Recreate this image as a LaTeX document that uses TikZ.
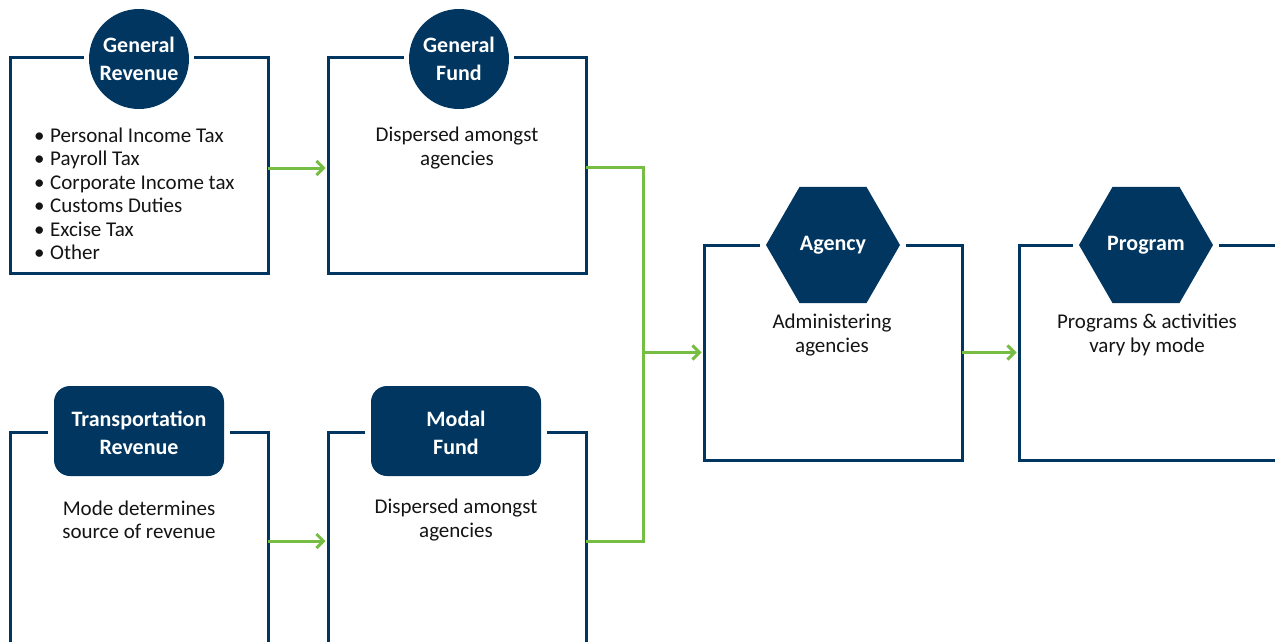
\documentclass[tikz,border=0pt]{standalone}
\usepackage{fontspec}
\setmainfont{Carlito}
\usetikzlibrary{shapes.geometric,arrows.meta,calc}
\definecolor{navy}{RGB}{0,54,96}
\definecolor{lgreen}{RGB}{118,190,67}
\definecolor{txt}{RGB}{20,20,20}
\begin{document}
\begin{tikzpicture}[x=1pt,y=-1pt,
  boxarea/.style={rectangle,minimum width=258pt,minimum height=215pt,inner sep=0pt,outer sep=0pt},
  frame/.style={draw=navy,line width=3pt,line join=miter},
  lbl/.style={text=white,font=\fontsize{22}{28}\selectfont\bfseries,align=center,inner sep=0pt,outer sep=0pt},
  circlbl/.style={lbl,circle,fill=navy,minimum size=100pt},
  roundlbl/.style={lbl,rectangle,rounded corners=16pt,fill=navy,minimum width=170pt,minimum height=90pt},
  hexlbl/.style={lbl,regular polygon,regular polygon sides=6,fill=navy,minimum size=134pt},
  body/.style={text=txt,font=\fontsize{21}{23.5}\selectfont,align=center,inner sep=0pt},
  conn/.style={draw=lgreen,line width=3pt,line join=miter},
  arr/.style={conn,-{Straight Barb[length=7pt,width=14pt,line width=3pt]},shorten >=2.5pt}
]
\useasboundingbox (0,0) rectangle (1275,642);
\clip (0,0) rectangle (1275,642);

% boxes
\node[boxarea] (b1) at (139,165.5) {};
\node[boxarea] (b2) at (457,165.5) {};
\node[boxarea] (b3) at (139,539.5) {};
\node[boxarea] (b4) at (457,539.5) {};
\node[boxarea] (b5) at (833,352.5) {};
\node[boxarea] (b6) at (1148,352.5) {};

% label shapes
\node[circlbl] (c1) at (139,59) {General\\Revenue};
\node[circlbl] (c2) at (459,59) {General\\Fund};
\node[roundlbl] (r3) at (139,431) {};
\node[lbl] (r3t) at (139,433) {Transportation\\Revenue};
\node[roundlbl] (r4) at (456,431) {};
\node[lbl] (r4t) at (456,433) {Modal\\Fund};
\node[hexlbl] (h5) at (833,245) {\raisebox{2pt}{Agency}};
\node[hexlbl] (h6) at (1146,245) {\raisebox{-1pt}{Program}};

% frames with gaps around labels
\draw[frame] ($(c1.west |- b1.north)+(-5,0)$) -- (b1.north west) -- (b1.south west) -- (b1.south east) -- (b1.north east) -- ($(c1.east |- b1.north)+(5,0)$);
\draw[frame] ($(c2.west |- b2.north)+(-5,0)$) -- (b2.north west) -- (b2.south west) -- (b2.south east) -- (b2.north east) -- ($(c2.east |- b2.north)+(5,0)$);
\draw[frame] ($(r3.west |- b3.north)+(-6,0)$) -- (b3.north west) -- (b3.south west) -- (b3.south east) -- (b3.north east) -- ($(r3.east |- b3.north)+(6,0)$);
\draw[frame] ($(r4.west |- b4.north)+(-6,0)$) -- (b4.north west) -- (b4.south west) -- (b4.south east) -- (b4.north east) -- ($(r4.east |- b4.north)+(6,0)$);
\draw[frame] ($(h5.west |- b5.north)+(-6,0)$) -- (b5.north west) -- (b5.south west) -- (b5.south east) -- (b5.north east) -- ($(h5.east |- b5.north)+(6,0)$);
\draw[frame] ($(h6.west |- b6.north)+(-6,0)$) -- (b6.north west) -- (b6.south west) -- (b6.south east) -- (b6.north east) -- ($(h6.east |- b6.north)+(6,0)$);

% body texts
\node[body,align=left,anchor=west] (t1) at (34,194) {%
\makebox[16pt][l]{\textbullet}Personal Income Tax\\
\makebox[16pt][l]{\textbullet}Payroll Tax\\
\makebox[16pt][l]{\textbullet}Corporate Income tax\\
\makebox[16pt][l]{\textbullet}Customs Duties\\
\makebox[16pt][l]{\textbullet}Excise Tax\\
\makebox[16pt][l]{\textbullet}Other};
\node[body] (t2) at (457,148) {Dispersed amongst\\agencies};
\node[body] (t3) at (139,520) {Mode determines\\source of revenue};
\node[body] (t4) at (456,520) {Dispersed amongst\\agencies};
\node[body] (t5) at (832,335) {Administering\\agencies};
\node[body] (t6) at (1147,335) {Programs \& activities\\vary by mode};

% connectors
\coordinate (j) at (643,352.5);
\draw[arr] (b1.east |- 0,168) -- (b2.west |- 0,168);
\draw[arr] (b3.east |- 0,541) -- (b4.west |- 0,541);
\draw[conn] (b2.east |- 0,167) -| (j) |- (b4.east |- 0,541);
\draw[arr] (j) -- (b5.west);
\draw[arr] (b5.east) -- (b6.west);
\end{tikzpicture}
\end{document}
